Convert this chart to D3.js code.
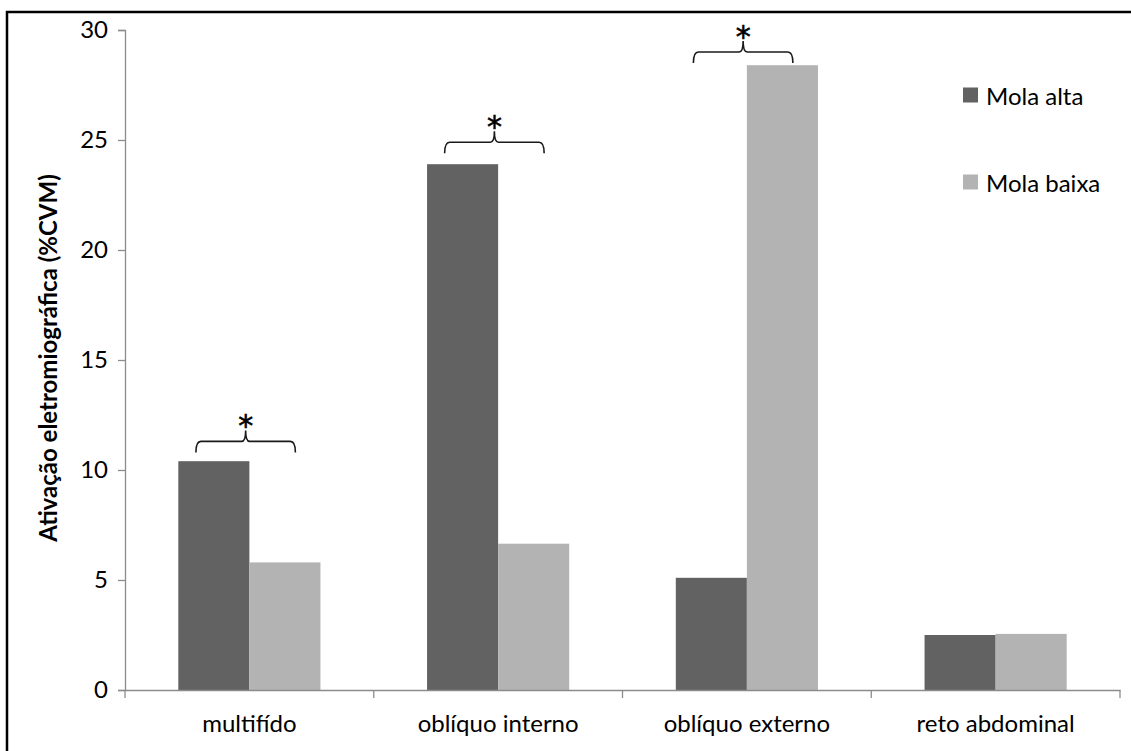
<!DOCTYPE html>
<html><head><meta charset="utf-8">
<script src="https://cdn.jsdelivr.net/npm/d3@7"></script>
<style>
body{margin:0;background:#fff;}
text{font-family:Lato,"Noto Sans",sans-serif;}
</style></head>
<body><svg id="c" width="1131" height="751"></svg>
<script>
const categories = ["multifído","oblíquo interno","oblíquo externo","reto abdominal"];
const seriesNames = ["Mola alta","Mola baixa"];
const molaAlta = [10.4, 23.9, 5.1, 2.5];
const molaBaixa = [5.8, 6.65, 28.4, 2.55];
const yTicks = [0,5,10,15,20,25,30];
const braceCategories = ["multifído","oblíquo interno","oblíquo externo"];
const braceLevels = [11.3, 24.9, 29.0];
const braceLabel = "*";
const yTitle = "Ativação eletromiográfica (%CVM)";

const colors = {"Mola alta":"#626262","Mola baixa":"#b3b3b3"};
const svg = d3.select("#c");
svg.append("rect").attr("x",7).attr("y",12).attr("width",1140).attr("height",760)
  .attr("fill","#fff").attr("stroke","#000").attr("stroke-width",2.5);

const y = d3.scaleLinear().domain([0,30]).range([690,30]);
const x = d3.scaleBand().domain(categories).range([125,1120]).paddingInner(0).paddingOuter(0);
const bw = x.bandwidth();
const barW = bw/3.5;
const xs = d3.scaleBand().domain(seriesNames).range([0.75*barW, 2.75*barW]);

const data = categories.map((c,i)=>({c, vals:[{s:"Mola alta",v:molaAlta[i]},{s:"Mola baixa",v:molaBaixa[i]}]}));

// y axis
const yAxis = d3.axisLeft(y).tickValues(yTicks).tickSize(7).tickPadding(10).tickFormat(d3.format("d"));
const gy = svg.append("g").attr("transform","translate(125,0)").call(yAxis);
gy.select(".domain").attr("stroke","#8c8c8c").attr("stroke-width",1.3);
gy.selectAll(".tick line").attr("stroke","#8c8c8c").attr("stroke-width",1.3);
gy.selectAll(".tick text").attr("font-size",24).attr("fill","#000").attr("font-family","Lato");

// bars
const g = svg.append("g");
g.selectAll("g.cat").data(data).join("g").attr("class","cat")
  .attr("transform",d=>`translate(${x(d.c)},0)`)
  .selectAll("rect").data(d=>d.vals).join("rect")
  .attr("x",d=>xs(d.s)).attr("width",xs.bandwidth())
  .attr("y",d=>y(d.v)).attr("height",d=>y(0)-y(d.v))
  .attr("fill",d=>colors[d.s]);

// x axis
const xAxis = d3.axisBottom(x).tickSize(0).tickPadding(25);
const gx = svg.append("g").attr("transform",`translate(0,${y(0)})`).call(xAxis);
gx.select(".domain").attr("stroke","#8c8c8c").attr("stroke-width",1.3);
gx.selectAll(".tick text").attr("font-size",24).attr("fill","#000").attr("font-family","Lato");
// category boundary ticks
const bounds = categories.map(c=>x(c)).concat([x(categories[categories.length-1])+bw]);
gx.selectAll("line.bt").data(bounds).join("line").attr("class","bt")
  .attr("x1",d=>d).attr("x2",d=>d).attr("y1",0).attr("y2",8)
  .attr("stroke","#8c8c8c").attr("stroke-width",1.3);

// y title
svg.append("text").attr("transform","translate(47,358) rotate(-90)")
  .attr("text-anchor","middle").attr("dominant-baseline","central")
  .attr("font-size",24).attr("font-weight","bold").attr("fill","#000").text(yTitle);

// braces
braceCategories.forEach((c,i)=>{
  const L = x(c) + 0.285*bw, R = L + 0.4*bw, C = (L+R)/2;
  const y0 = y(braceLevels[i]);
  const p = d3.path();
  p.moveTo(L, y0+11); p.quadraticCurveTo(L, y0, L+5, y0);
  p.lineTo(C-4, y0); p.quadraticCurveTo(C, y0, C, y0-11);
  p.quadraticCurveTo(C, y0, C+4, y0);
  p.lineTo(R-5, y0); p.quadraticCurveTo(R, y0, R, y0+11);
  svg.append("path").attr("d",p.toString()).attr("fill","none")
    .attr("stroke","#1a1a1a").attr("stroke-width",1.6);
  svg.append("text").attr("x",C).attr("y",y0-5).attr("text-anchor","middle")
    .style("font-family","'DejaVu Sans'").attr("font-size",30).attr("fill","#000")
    .attr("stroke","#000").attr("stroke-width",0.6).text(braceLabel);
});

// legend
const lg = svg.append("g");
seriesNames.forEach((s,i)=>{
  const cy = 95 + i*87;
  lg.append("rect").attr("x",963).attr("y",cy-7.5).attr("width",15).attr("height",15).attr("fill",colors[s]);
  lg.append("text").attr("x",986).attr("y",cy).attr("dominant-baseline","central")
    .attr("font-size",24).attr("fill","#000").text(s);
});
</script></body></html>
